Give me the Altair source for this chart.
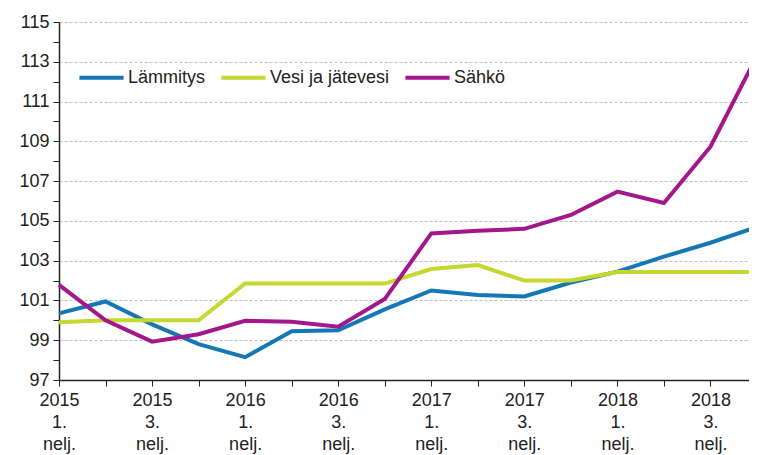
import altair as alt
import pandas as pd

years = [2015]*4 + [2016]*4 + [2017]*4 + [2018]*4
quarters = ["1.", "2.", "3.", "4."] * 4

lammitys = [100.35, 100.95, 99.8, 98.8, 98.15, 99.45, 99.5, 100.55, 101.5, 101.27, 101.2, 101.9, 102.45, 103.2, 103.9, 104.7]
vesi = [99.9, 100.0, 100.0, 100.0, 101.85, 101.85, 101.85, 101.85, 102.58, 102.78, 102.0, 102.0, 102.43, 102.43, 102.43, 102.43]
sahko = [101.78, 100.0, 98.93, 99.3, 99.98, 99.93, 99.68, 101.07, 104.37, 104.5, 104.6, 105.3, 106.47, 105.9, 108.73, 113.3]

series_names = ["Lämmitys", "Vesi ja jätevesi", "Sähkö"]
series_values = [lammitys, vesi, sahko]
colors = ["#1577b5", "#c5d82e", "#a3168c"]

y_ticks = list(range(97, 116))

qlabels = [f"{y}|{q}|nelj." for y, q in zip(years, quarters)]

rows = []
for name, vals in zip(series_names, series_values):
    for ql, v in zip(qlabels, vals):
        rows.append({"q": ql, "value": v, "series": name})
df = pd.DataFrame(rows)

FONT = "Liberation Sans"

chart = alt.Chart(df).mark_line(strokeWidth=4, strokeJoin="miter").encode(
    x=alt.X(
        "q:O",
        sort=qlabels,
        scale=alt.Scale(type="point", padding=0),
        axis=alt.Axis(
            title=None,
            labelAngle=0,
            labelExpr="(split(datum.value,'|')[1]=='1.' || split(datum.value,'|')[1]=='3.') ? split(datum.value,'|') : ''",
            labelLineHeight=22,
            labelBaseline="top",
            labelAlign="center",
            labelFontSize=18,
            labelFont=FONT,
            labelColor="#222222",
            labelPadding=5,
            labelOverlap=False,
            labelBound=False,
            tickSize=6,
            tickColor="#222222",
            domainColor="#222222",
            domainWidth=1.5,
            grid=False,
        ),
    ),
    y=alt.Y(
        "value:Q",
        scale=alt.Scale(domain=[97, 115], nice=False, zero=False),
        axis=alt.Axis(
            title=None,
            values=y_ticks,
            labelExpr="datum.value % 2 == 1 ? datum.label : ''",
            labelFontSize=18,
            labelFont=FONT,
            labelColor="#222222",
            labelPadding=4,
            tickSize=6,
            tickColor="#222222",
            domainColor="#222222",
            domainWidth=1.5,
            grid=True,
            gridColor="#bdbdbd",
            gridDash=[3, 2],
            gridWidth=1,
            gridOpacity={"condition": {"test": "datum.value % 2 == 0", "value": 0}, "value": 1},
        ),
    ),
    color=alt.Color(
        "series:N",
        sort=series_names,
        scale=alt.Scale(domain=series_names, range=colors),
        legend=alt.Legend(
            title=None,
            orient="none",
            legendX=18,
            legendY=31,
            direction="horizontal",
            symbolType="stroke",
            symbolSize=1950,
            symbolStrokeWidth=4,
            labelFontSize=18,
            labelFont=FONT,
            labelColor="#222222",
            labelOffset=2,
            columnPadding=7,
        ),
    ),
    order=alt.Order("series:N"),
).properties(
    width=698,
    height=358,
    autosize=alt.AutoSizeParams(type="none"),
    padding={"left": 51, "top": 14, "right": -8, "bottom": 75},
).configure_view(stroke=None)

chart.save("out.html", embed_options={"renderer": "svg", "actions": False})
